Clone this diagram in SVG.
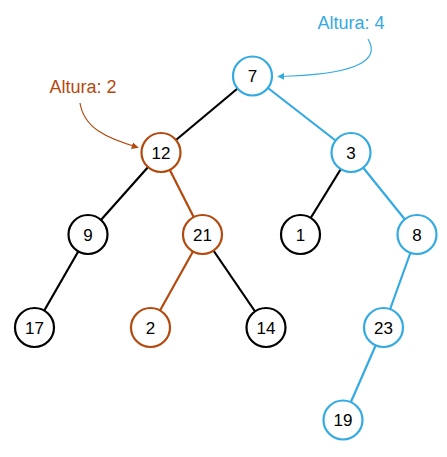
<svg xmlns="http://www.w3.org/2000/svg" width="447" height="457" viewBox="0 0 447 457">
<style>
.n circle{fill:#fff;stroke-width:2.2}
.k circle{stroke:#000}
.b circle{stroke:#33AAE2}
.o circle{stroke:#B4490E}
text{font-family:"Liberation Sans",Arial,sans-serif;text-anchor:middle}
.n text{font-size:17px;fill:#000}
.e line{stroke-width:2.2}
.ek{stroke:#000}
.eb{stroke:#33AAE2}
.eo{stroke:#B4490E}
</style>
<defs>
<marker id="ab" viewBox="0 0 10 10" refX="9" refY="5" markerWidth="7" markerHeight="7" orient="auto" markerUnits="userSpaceOnUse"><path d="M0,0 L10,5 L0,10 z" fill="#33AAE2"/></marker>
<marker id="ao" viewBox="0 0 10 10" refX="9" refY="5" markerWidth="7" markerHeight="7" orient="auto" markerUnits="userSpaceOnUse"><path d="M0,0 L10,5 L0,10 z" fill="#B4490E"/></marker>
</defs>
<g id="connectors" class="e">
<line class="ek" x1="252.5" y1="76" x2="161" y2="152.5"/>
<line class="eb" x1="252.5" y1="76" x2="351" y2="152.5"/>
<line class="ek" x1="161" y1="152.5" x2="88" y2="234.5"/>
<line class="eo" x1="161" y1="152.5" x2="202.5" y2="234.5"/>
<line class="ek" x1="351" y1="152.5" x2="300.5" y2="234.5"/>
<line class="eb" x1="351" y1="152.5" x2="417" y2="234.5"/>
<line class="ek" x1="88" y1="234.5" x2="34.5" y2="327.5"/>
<line class="eo" x1="202.5" y1="234.5" x2="150.5" y2="327.5"/>
<line class="ek" x1="202.5" y1="234.5" x2="266" y2="327.5"/>
<line class="eb" x1="417" y1="234.5" x2="383.5" y2="327.5"/>
<line class="eb" x1="383.5" y1="327.5" x2="343" y2="420"/>
<path d="M368,39 C382,62 352,75 278,76.5" fill="none" stroke="#33AAE2" stroke-width="1.2" marker-end="url(#ab)"/>
<path d="M80,103 C84,128 106,138 138,147.5" fill="none" stroke="#B4490E" stroke-width="1.2" marker-end="url(#ao)"/>
</g>
<text id="label-altura4" x="351" y="29" font-size="18" fill="#33AAE2">Altura: 4</text>
<text id="label-altura2" x="83" y="93" font-size="18" fill="#B4490E">Altura: 2</text>
<g id="n7" class="n b"><circle cx="252.5" cy="76" r="19.5"/><text x="252.5" y="82">7</text></g>
<g id="n12" class="n o"><circle cx="161" cy="152.5" r="19.5"/><text x="161" y="158.5">12</text></g>
<g id="n3" class="n b"><circle cx="351" cy="152.5" r="19.5"/><text x="351" y="158.5">3</text></g>
<g id="n9" class="n k"><circle cx="88" cy="234.5" r="19.5"/><text x="88" y="240.5">9</text></g>
<g id="n21" class="n o"><circle cx="202.5" cy="234.5" r="19.5"/><text x="202.5" y="240.5">21</text></g>
<g id="n1" class="n k"><circle cx="300.5" cy="234.5" r="19.5"/><text x="300.5" y="240.5">1</text></g>
<g id="n8" class="n b"><circle cx="417" cy="234.5" r="19.5"/><text x="417" y="240.5">8</text></g>
<g id="n17" class="n k"><circle cx="34.5" cy="327.5" r="19.5"/><text x="34.5" y="333.5">17</text></g>
<g id="n2" class="n o"><circle cx="150.5" cy="327.5" r="19.5"/><text x="150.5" y="333.5">2</text></g>
<g id="n14" class="n k"><circle cx="266" cy="327.5" r="19.5"/><text x="266" y="333.5">14</text></g>
<g id="n23" class="n b"><circle cx="383.5" cy="327.5" r="19.5"/><text x="383.5" y="333.5">23</text></g>
<g id="n19" class="n b"><circle cx="343" cy="420" r="19.5"/><text x="343" y="426">19</text></g>
</svg>
